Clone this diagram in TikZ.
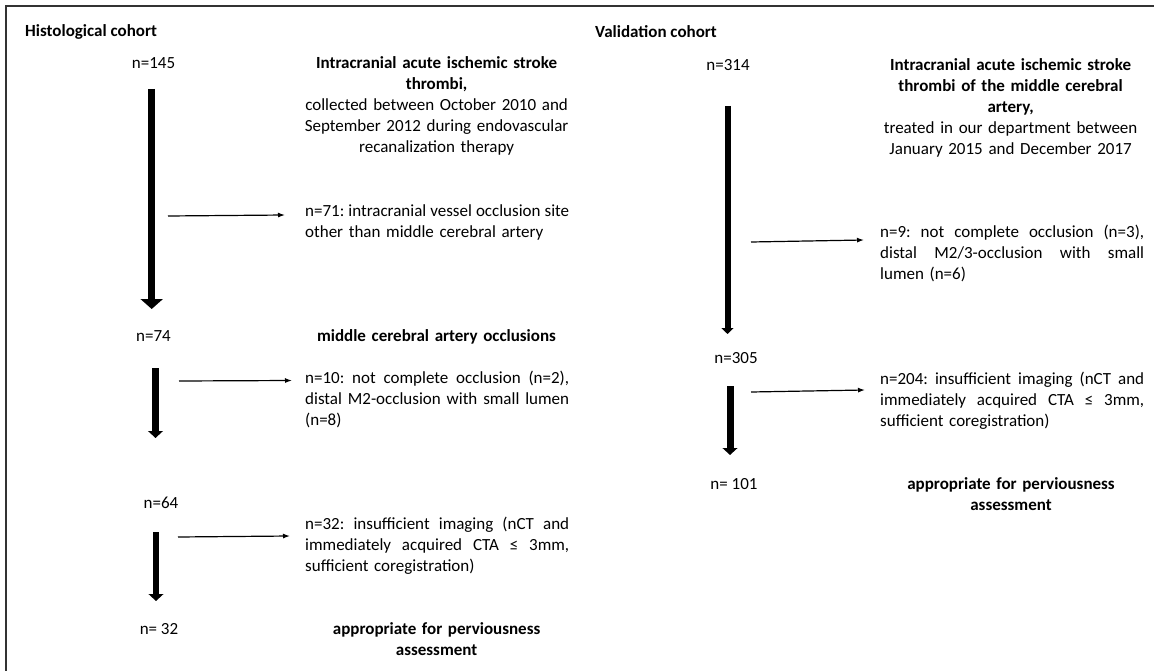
\documentclass[tikz,border=0pt]{standalone}
\usepackage{fontspec}
\setmainfont{Carlito}
\usetikzlibrary{arrows.meta,positioning,calc}
\newcommand{\fullline}[1]{\makebox[264pt][s]{\spaceskip=0.226em plus 1fil minus 0.1em\relax#1}}

\begin{document}
\begin{tikzpicture}[x=1pt, y=-1pt, >={Latex[length=7pt,width=5pt]}]
\tikzset{
txt/.style      = {inner sep=0pt, font=\fontsize{17}{21}\selectfont\frenchspacing},
count/.style    = {txt, anchor=base},
cohort/.style   = {txt, anchor=base west, font=\fontsize{17}{21}\selectfont\bfseries},
title/.style    = {txt, anchor=base, align=center, text width=300pt},
excl/.style     = {txt, anchor=base west, align=left, text width=264pt},
flow/.style     = {line width=6.7pt, -{Triangle[width=14.7pt,length=7pt]}},
side/.style     = {line width=1.2pt, ->},
frame/.style    = {line width=2pt, draw=black!80},
}
    \useasboundingbox (0,0) rectangle (1154,671);
    \draw [frame] (6,671) -- (6,6) -- (1154,6);

    % Histological cohort
    \node [cohort]  (hist)    at (25,36.5)     {Histological cohort};
    \node [count]   (n145)    at (153.5,68.5)  {n=145};
    \node [title]   (thrombi) at (436.6,68.5)  {{\bfseries Intracranial acute ischemic stroke}\\{\bfseries thrombi,}\\collected between October 2010 and\\September 2012 during endovascular\\recanalization therapy};
    \node [excl]    (ex71)    at (305,216.5)   {\fullline{n=71: intracranial vessel occlusion site}\\other than middle cerebral artery};
    \node [count]   (n74)     at (153.5,341.5) {n=74};
    \node [title]   (mca)     at (436.5,341.5) {\bfseries middle cerebral artery occlusions};
    \node [excl]    (ex10)    at (305,383.5)   {\fullline{n=10: not complete occlusion (n=2),}\\\fullline{distal M2-occlusion with small lumen}\\(n=8)};
    \node [count]   (n64)     at (161,508.5)   {n=64};
    \node [excl]    (ex32)    at (305,529.5)   {\fullline{n=32: insufficient imaging (nCT and}\\\fullline{immediately acquired CTA ≤ 3mm,}\\sufficient coregistration)};
    \node [count]   (n32)     at (159,634.5)   {n= 32};
    \node [title]   (app1)    at (436.6,634.5) {\bfseries appropriate for perviousness\\\bfseries assessment};

    % Validation cohort
    \node [cohort]  (valid)   at (595,37.5)    {Validation cohort};
    \node [count]   (n314)    at (728,70.5)    {n=314};
    \node [title]   (mcat)    at (1010.6,70.5) {{\bfseries Intracranial acute ischemic stroke}\\{\bfseries thrombi of the middle cerebral}\\{\bfseries artery,}\\treated in our department between\\January 2015 and December 2017};
    \node [excl]    (ex9)     at (880,237.5)   {\fullline{n=9: not complete occlusion (n=3),}\\\fullline{distal M2/3-occlusion with small}\\lumen (n=6)};
    \node [count]   (n305)    at (736,363.5)   {n=305};
    \node [excl]    (ex204)   at (880,384.5)   {\fullline{n=204: insufficient imaging (nCT and}\\\fullline{immediately acquired CTA ≤ 3mm,}\\sufficient coregistration)};
    \node [count]   (n101)    at (734,489.5)   {n= 101};
    \node [title]   (app2)    at (1011,489.5)  {\bfseries appropriate for perviousness\\\bfseries assessment};

    % Arrow ends
    \coordinate (h1a) at (151.7,89);   \coordinate (h1b) at (151.7,309);
    \coordinate (h2a) at (155.5,368);  \coordinate (h2b) at (155.5,438);
    \coordinate (h3a) at (156,532);    \coordinate (h3b) at (156,601);
    \coordinate (v1a) at (727.5,106);  \coordinate (v1b) at (727.5,334);
    \coordinate (v2a) at (730,386);    \coordinate (v2b) at (730,455);
    \coordinate (s1a) at (168,216);    \coordinate (s1b) at (285,215);
    \coordinate (s2a) at (179,381);    \coordinate (s2b) at (292,380.5);
    \coordinate (s3a) at (178,537);    \coordinate (s3b) at (290,536);
    \coordinate (s4a) at (751,242);    \coordinate (s4b) at (864,240);
    \coordinate (s5a) at (751,392);    \coordinate (s5b) at (865,390);

    % Main edges
    \draw [flow, line width=7.4pt, -{Triangle[width=22pt,length=10pt]}] (h1a) -- (h1b);
    \draw [flow]  (h2a) -- (h2b);
    \draw [flow]  (h3a) -- (h3b);
    \draw [flow, line width=6pt, -{Triangle[width=12pt,length=6pt]}] (v1a) -- (v1b);
    \draw [flow, line width=7pt] (v2a) -- (v2b);

    % Exclusion edges
    \draw [side]  (s1a) -- (s1b);
    \draw [side]  (s2a) -- (s2b);
    \draw [side]  (s3a) -- (s3b);
    \draw [side]  (s4a) -- (s4b);
    \draw [side]  (s5a) -- (s5b);

\end{tikzpicture}
\end{document}
